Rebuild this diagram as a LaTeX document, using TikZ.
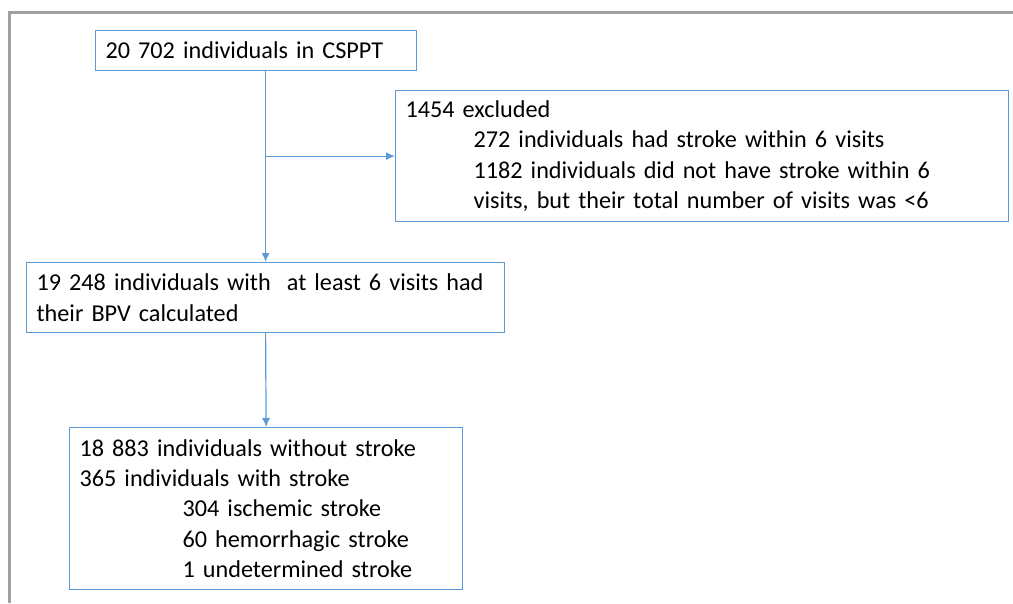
\documentclass[tikz,border=0pt]{standalone}
\usepackage{fontspec}
\setmainfont{Carlito}
\usetikzlibrary{positioning,arrows.meta}
\definecolor{flowblue}{RGB}{91,155,213}
\definecolor{framegray}{RGB}{160,160,160}
\tikzset{
  box/.style={draw=flowblue,line width=1.2pt,anchor=north west,align=left,
    inner xsep=10pt,inner ysep=0pt,font=\fontsize{24.2}{30.3}\selectfont},
  link/.style={->,flowblue,line width=1.2pt}
}
\begin{document}
\begin{tikzpicture}[>={Latex[length=9pt,width=8pt]},x=1pt,y=-1pt]
\useasboundingbox (0,0) rectangle (1013,603);
% Rahmen (nur links und oben sichtbar)
\draw[framegray,line width=3pt] (9.5,603) -- (9.5,12) -- (1013,12);
% Kaesten
\node[box,text width=301pt,minimum height=40pt] (total) at (95,30)
  {20 702 individuals in CSPPT};
\node[box,text width=593pt,minimum height=131pt] (excl) at (395,90)
  {1454 excluded\\
   \hspace*{68pt}272 individuals had stroke within 6 visits\\
   \hspace*{68pt}1182 individuals did not have stroke within 6\\
   \hspace*{68pt}visits, but their total number of visits was <6};
\node[box,text width=458pt,minimum height=70pt] (bpv) at (26,262)
  {19 248 individuals with\ \ at least 6 visits had\\their BPV calculated};
\node[box,text width=373pt,minimum height=162pt] (stroke) at (69,427)
  {18 883 individuals without stroke\\
   365 individuals with stroke\\
   \hspace*{103pt}304 ischemic stroke\\
   \hspace*{103pt}60 hemorrhagic stroke\\
   \hspace*{103pt}1 undetermined stroke};
% Pfeile
\draw[link] (bpv.north |- total.south) -- (bpv.north);
\draw[link] (bpv.north |- excl.west) -- (excl.west);
\draw[link] (bpv.south) -- (stroke.north);
\end{tikzpicture}
\end{document}
